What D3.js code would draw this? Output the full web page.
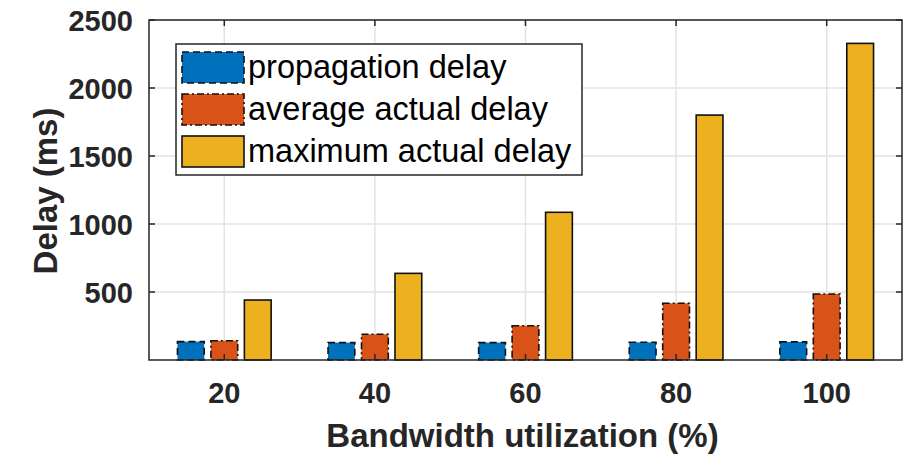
<!DOCTYPE html>
<html>
<head>
<meta charset="utf-8">
<script src="https://cdn.jsdelivr.net/npm/d3@7"></script>
<style>
  html, body { margin: 0; padding: 0; background: #fff; }
  svg { display: block; }
</style>
</head>
<body>
<svg id="chart" width="912" height="456"></svg>
<script>
// ---- data ----
const categories = [20, 40, 60, 80, 100];
const propagationDelay = [135, 128, 128, 130, 133];
const averageActualDelay = [142, 189, 252, 417, 485];
const maximumActualDelay = [441, 637, 1086, 1801, 2328];
const seriesNames = ["propagation delay", "average actual delay", "maximum actual delay"];
const yTicks = [500, 1000, 1500, 2000, 2500];

const seriesValues = [propagationDelay, averageActualDelay, maximumActualDelay];
const colors = ["#0072BD", "#D95319", "#EDB120"];
const dashes = ["7,4", "7,3,2,3", null];

const svg = d3.select("#chart");
const plotL = 149, plotR = 902, plotT = 20, plotB = 360;

const x = d3.scaleLinear().domain([10, 110]).range([plotL, plotR]);
const y = d3.scaleLinear().domain([0, 2500]).range([plotB, plotT]);

const font = "'Liberation Sans', Arial, Helvetica, sans-serif";
const axisColor = "#262626";

// gridlines
const grid = svg.append("g");
grid.selectAll("line.gx").data(categories).enter().append("line")
  .attr("x1", d => x(d)).attr("x2", d => x(d))
  .attr("y1", plotT).attr("y2", plotB)
  .attr("stroke", "#e3e3e3").attr("stroke-width", 1.5);
grid.selectAll("line.gy").data(yTicks).enter().append("line")
  .attr("x1", plotL).attr("x2", plotR)
  .attr("y1", d => y(d)).attr("y2", d => y(d))
  .attr("stroke", "#e3e3e3").attr("stroke-width", 1.5);

// bars
const groupWidth = 20 * (2 / 3);
const spacing = groupWidth / 3;
const barW = spacing * 0.8;
seriesValues.forEach((vals, i) => {
  svg.append("g").selectAll("rect").data(vals).enter().append("rect")
    .attr("x", (d, j) => x(categories[j] + (i - 1) * spacing - barW / 2))
    .attr("width", x(barW) - x(0))
    .attr("y", d => y(d))
    .attr("height", d => y(0) - y(d))
    .attr("fill", colors[i])
    .attr("stroke", "#111")
    .attr("stroke-width", 1.6)
    .attr("stroke-dasharray", dashes[i]);
});

// axes box
const ax = svg.append("g");
ax.append("rect").attr("x", plotL).attr("y", plotT)
  .attr("width", plotR - plotL).attr("height", plotB - plotT)
  .attr("fill", "none").attr("stroke", axisColor).attr("stroke-width", 1.5);

const tickLen = 6;
yTicks.forEach(t => {
  ax.append("line").attr("x1", plotL).attr("x2", plotL + tickLen)
    .attr("y1", y(t)).attr("y2", y(t)).attr("stroke", axisColor).attr("stroke-width", 1.5);
  ax.append("line").attr("x1", plotR).attr("x2", plotR - tickLen)
    .attr("y1", y(t)).attr("y2", y(t)).attr("stroke", axisColor).attr("stroke-width", 1.5);
});
categories.forEach(c => {
  ax.append("line").attr("x1", x(c)).attr("x2", x(c))
    .attr("y1", plotB).attr("y2", plotB - tickLen).attr("stroke", axisColor).attr("stroke-width", 1.5);
  ax.append("line").attr("x1", x(c)).attr("x2", x(c))
    .attr("y1", plotT).attr("y2", plotT + tickLen).attr("stroke", axisColor).attr("stroke-width", 1.5);
});

// tick labels
svg.append("g").selectAll("text").data(yTicks).enter().append("text")
  .attr("x", plotL - 16).attr("y", d => y(d) + 11)
  .attr("text-anchor", "end")
  .attr("font-family", font).attr("font-weight", "bold").attr("font-size", 29)
  .attr("fill", "#262626")
  .text(d => d);
svg.append("g").selectAll("text").data(categories).enter().append("text")
  .attr("x", d => x(d)).attr("y", 403)
  .attr("text-anchor", "middle")
  .attr("font-family", font).attr("font-weight", "bold").attr("font-size", 29)
  .attr("fill", "#262626")
  .text(d => d);

// axis labels
svg.append("text")
  .attr("x", (plotL + plotR) / 2 - 3).attr("y", 447)
  .attr("text-anchor", "middle")
  .attr("font-family", font).attr("font-weight", "bold").attr("font-size", 33)
  .attr("fill", "#262626")
  .text("Bandwidth utilization (%)");
svg.append("text")
  .attr("transform", "translate(57,191) rotate(-90)")
  .attr("text-anchor", "middle")
  .attr("font-family", font).attr("font-weight", "bold").attr("font-size", 33)
  .attr("fill", "#262626")
  .text("Delay (ms)");

// legend
const lg = svg.append("g");
lg.append("rect").attr("x", 176).attr("y", 44).attr("width", 406).attr("height", 131)
  .attr("fill", "#fff").attr("stroke", axisColor).attr("stroke-width", 1.5);
seriesNames.forEach((name, i) => {
  const ry = 52 + i * 42;
  lg.append("rect").attr("x", 182).attr("y", ry).attr("width", 62).attr("height", 31)
    .attr("fill", colors[i]).attr("stroke", "#111").attr("stroke-width", 1.6)
    .attr("stroke-dasharray", dashes[i]);
  lg.append("text").attr("x", 248).attr("y", ry + 26)
    .attr("font-family", font).attr("font-size", 32.5)
    .attr("fill", "#000")
    .text(name);
});
</script>
</body>
</html>
